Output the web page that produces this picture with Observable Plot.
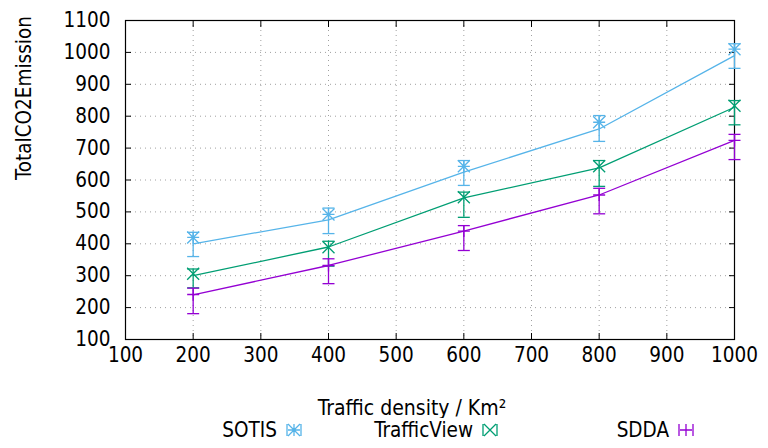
<!DOCTYPE html>
<html>
<head>
<meta charset="utf-8">
<script src="https://cdn.jsdelivr.net/npm/d3@7"></script>
<script src="https://cdn.jsdelivr.net/npm/@observablehq/plot@0.6"></script>
<style>
  html, body { margin: 0; padding: 0; background: #fff; }
  #chart svg { font-family: "DejaVu Sans Condensed", "DejaVu Sans", sans-serif; font-stretch: condensed; font-size: 20px; }
  .legend { display: flex; height: 30px; padding-left: 110px; font-family: "DejaVu Sans Condensed", "DejaVu Sans", sans-serif; font-stretch: condensed; font-size: 20.5px; line-height: 24px; color: #000; }
  .item { display: flex; width: 196px; align-items: center; height: 24px; }
  .item span { display: inline-block; width: 167px; text-align: right; }
  .item svg { margin-left: 5px; }
</style>
</head>
<body>
<div id="chart"></div>
<div class="legend" id="legend"></div>
<script>
// ---- data ----
const xValues = [200, 400, 600, 800, 1000];
const seriesNames = ["SOTIS", "TrafficView", "SDDA"];
const seriesColors = ["#56b4e9", "#009e73", "#9400d3"];

const sotisLine  = [400, 475, 625, 760, 990];
const sotisPoint = [420, 492, 643, 781, 1010];
const sotisLow   = [360, 432, 583, 721, 950];
const sotisHigh  = [436, 512, 661, 802, 1027];

const tvLine  = [300, 390, 544, 638, 828];
const tvPoint = [306, 389, 546, 643, 833];
const tvLow   = [262, 330, 483, 580, 773];
const tvHigh  = [321, 408, 562, 661, 849];

const sddaLine  = [240, 332, 440, 553, 724];
const sddaPoint = [241, 332, 440, 553, 724];
const sddaLow   = [181, 275, 379, 494, 664];
const sddaHigh  = [261, 353, 457, 574, 743];

const xTicks = [100, 200, 300, 400, 500, 600, 700, 800, 900, 1000];
const yTicks = [100, 200, 300, 400, 500, 600, 700, 800, 900, 1000, 1100];
const xLabel = "Traffic density / Km²";
const yLabel = "TotalCO2Emission";

// ---- symbols ----
const rad = (size) => Math.sqrt(size / Math.PI);
const symAsterisk = {draw(c, s) { const r = rad(s);
  c.moveTo(-r, 0); c.lineTo(r, 0); c.moveTo(0, -r); c.lineTo(0, r);
  c.moveTo(-r, -r); c.lineTo(r, r); c.moveTo(-r, r); c.lineTo(r, -r); }};
const symTimes = {draw(c, s) { const r = rad(s);
  c.moveTo(-r, -r); c.lineTo(r, r); c.moveTo(-r, r); c.lineTo(r, -r); }};
const symPlus = {draw(c, s) { const r = rad(s);
  c.moveTo(-r, 0); c.lineTo(r, 0); c.moveTo(0, -r); c.lineTo(0, r); }};
const symCap = {draw(c, s) { const r = rad(s); c.moveTo(-r, 0); c.lineTo(r, 0); }};
const symbols = [symAsterisk, symTimes, symPlus];

const raw = [
  [sotisLine, sotisPoint, sotisLow, sotisHigh],
  [tvLine, tvPoint, tvLow, tvHigh],
  [sddaLine, sddaPoint, sddaLow, sddaHigh]
];

const marks = [
  Plot.gridX(xTicks, {stroke: "#a0a0a0", strokeOpacity: 1, strokeDasharray: "1,4"}),
  Plot.gridY(yTicks, {stroke: "#a0a0a0", strokeOpacity: 1, strokeDasharray: "1,4"}),
  Plot.axisX(xTicks, {anchor: "bottom", tickSize: 0, tickPadding: 8, label: null, tickFormat: d => String(d), fontSize: 20.5}),
  Plot.axisY(yTicks, {anchor: "left", tickSize: 0, tickPadding: 15, label: null, tickFormat: d => String(d), fontSize: 20.5}),
  Plot.axisX(xTicks, {anchor: "bottom", tickSize: 6, dy: -6, label: null, tickFormat: () => "", strokeWidth: 1}),
  Plot.axisX(xTicks, {anchor: "top", tickSize: 6, dy: 6, label: null, tickFormat: () => "", strokeWidth: 1}),
  Plot.axisY(yTicks, {anchor: "left", tickSize: 6, dx: 6, label: null, tickFormat: () => "", strokeWidth: 1}),
  Plot.axisY(yTicks, {anchor: "right", tickSize: 6, dx: -6, label: null, tickFormat: () => "", strokeWidth: 1}),
  Plot.frame({stroke: "#000", strokeWidth: 1.2}),
  Plot.text([yLabel], {frameAnchor: "left", rotate: -90, dx: -101, fontSize: 20.5}),
  Plot.text([xLabel], {frameAnchor: "bottom", dy: 75, dx: -18, fontSize: 21})
];

raw.forEach(([line, point, low, high], k) => {
  const rows = xValues.map((x, i) => ({x, line: line[i], point: point[i], low: low[i], high: high[i]}));
  const color = seriesColors[k];
  marks.push(
    Plot.line(rows, {x: "x", y: "line", stroke: color, strokeWidth: 1.3}),
    Plot.ruleX(rows, {x: "x", y1: "low", y2: "high", stroke: color, strokeWidth: 1.3}),
    Plot.dot(rows, {x: "x", y: "low", symbol: symCap, r: 6, stroke: color, strokeWidth: 1.3}),
    Plot.dot(rows, {x: "x", y: "high", symbol: symCap, r: 6, stroke: color, strokeWidth: 1.3}),
    Plot.dot(rows, {x: "x", y: "point", symbol: symbols[k], r: 6, stroke: color, strokeWidth: 1.3, fill: "none"})
  );
});

const chart = Plot.plot({
  width: 768,
  height: 418,
  marginLeft: 125,
  marginRight: 34,
  marginTop: 20,
  marginBottom: 79,
  x: {type: "linear", domain: [100, 1000]},
  y: {type: "linear", domain: [100, 1100]},
  marks
});
document.getElementById("chart").appendChild(chart);

// ---- legend ----
const legend = document.getElementById("legend");
const sampleDraw = [
  r => `M${-r},${-r}L${r},${r}M${-r},${r}L${r},${-r}M${-r},0L${r},0M0,${-r}L0,${r}`,
  r => `M${-r},${-r}L${r},${r}M${-r},${r}L${r},${-r}`,
  r => `M${-r},0L${r},0M0,${-r}L0,${r}`
];
seriesNames.forEach((name, k) => {
  const r = 6;
  const item = document.createElement("div");
  item.className = "item";
  item.innerHTML = `<span>${name}</span><svg width="24" height="24" viewBox="-12 -12 24 24">
    <path d="M${-r - 1},${-r}L${-r - 1},${r}M${r + 1},${-r}L${r + 1},${r}${sampleDraw[k](r)}" stroke="${seriesColors[k]}" stroke-width="1.3" fill="none"/></svg>`;
  legend.appendChild(item);
});
</script>
</body>
</html>
